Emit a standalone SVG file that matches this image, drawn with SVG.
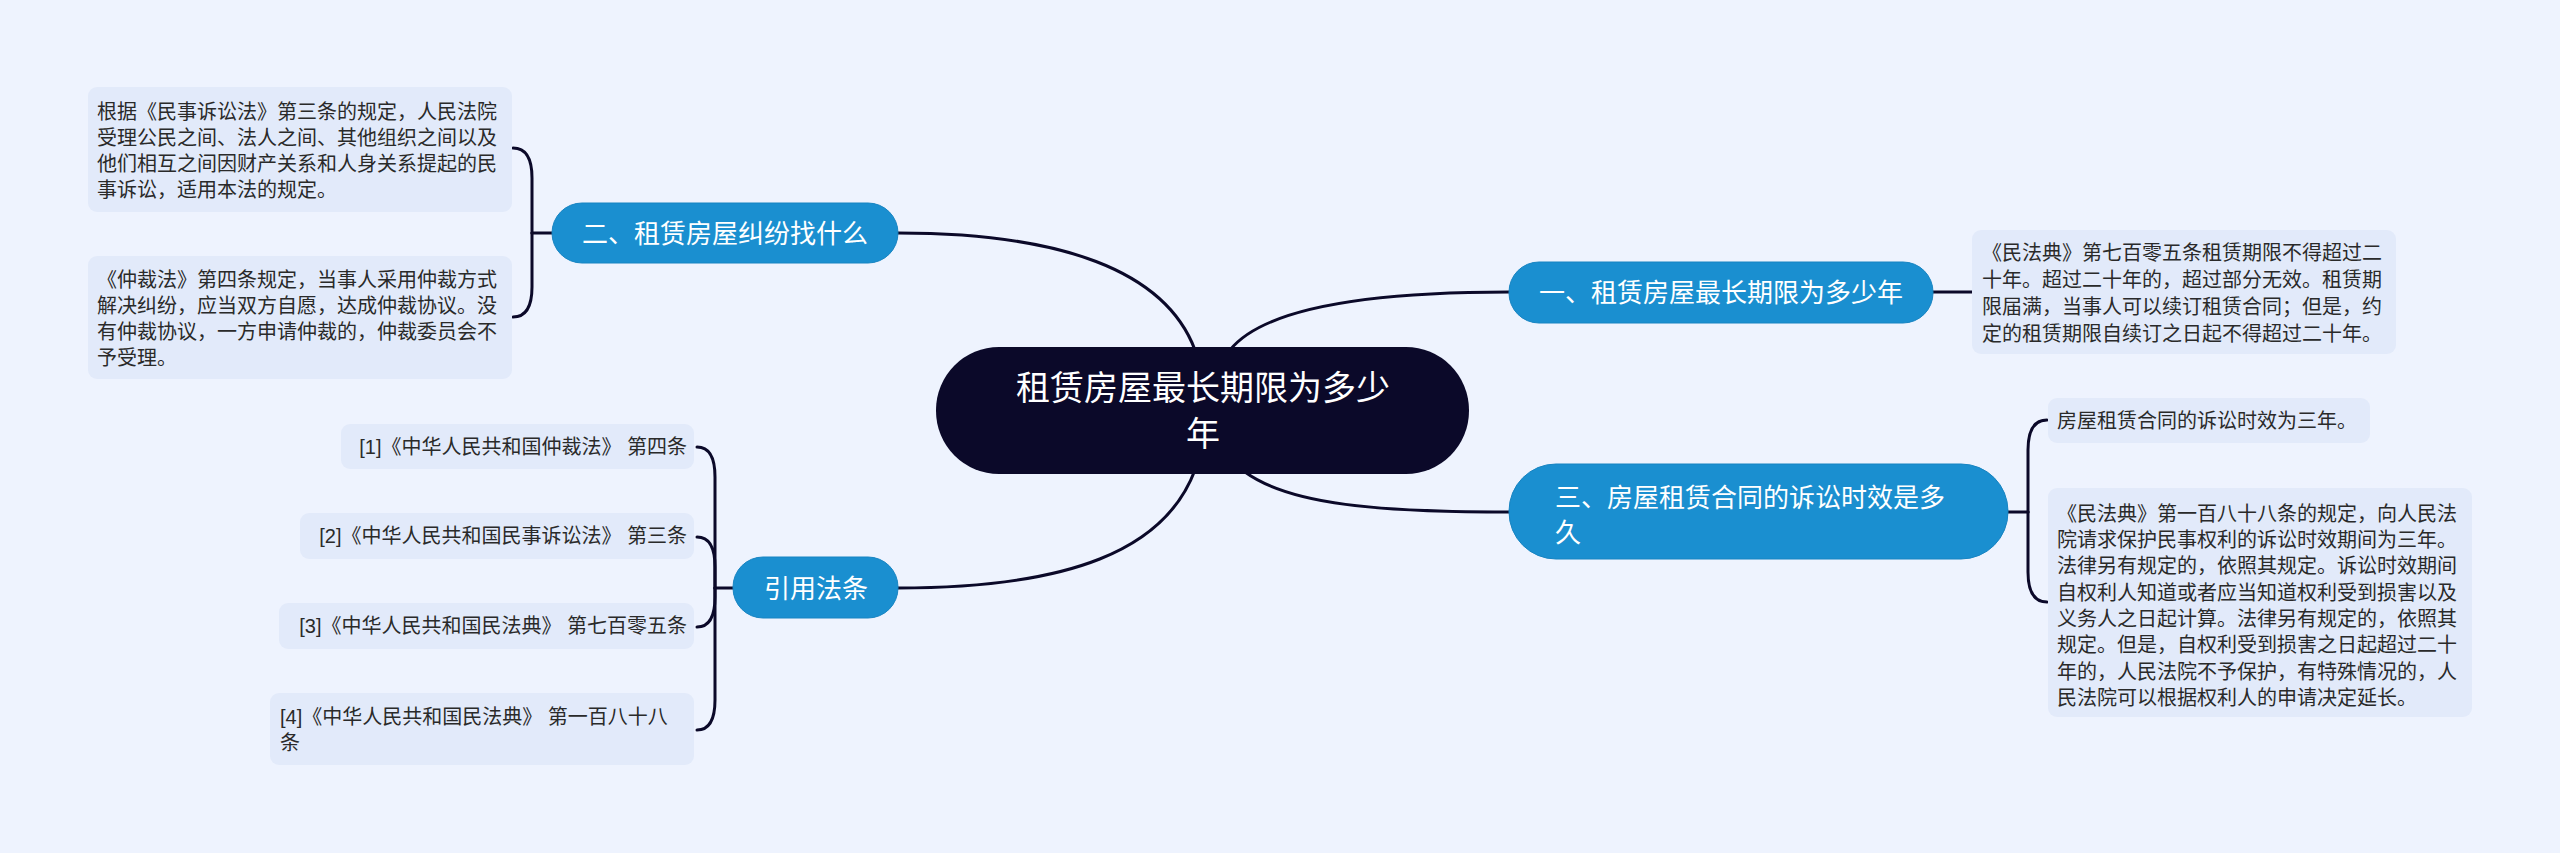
<svg xmlns="http://www.w3.org/2000/svg" width="2560" height="853" viewBox="0 0 2560 853">
<style>
.bg{fill:#eef3fe}
.box{fill:#e2eafa}
.branch{fill:#1a8fd0;stroke:#1784c2;stroke-width:1}
.root{fill:#0b0929}
.t{font-family:"Liberation Sans","Noto Sans CJK SC",sans-serif;font-size:20px;fill:#2a2a2a}
.bt{font-family:"Liberation Sans","Noto Sans CJK SC",sans-serif;font-size:26px;fill:#ffffff}
.rt{font-family:"Liberation Sans","Noto Sans CJK SC",sans-serif;font-size:34px;fill:#ffffff;text-anchor:middle}
.c{fill:none;stroke:#0b0929;stroke-width:3;stroke-linecap:round}
</style>
<rect class="bg" x="0" y="0" width="2560" height="853"/>
<g id="connectors">
<path class="c" d="M1195 350 C1165 270 1060 233 898 233"/>
<path class="c" d="M1230 350 C1262 310 1360 292 1509 292"/>
<path class="c" d="M1245 472 C1290 505 1380 512 1509 512"/>
<path class="c" d="M1195 470 C1165 550 1070 588 898 588"/>
<path class="c" d="M552 233 L532 233"/>
<path class="c" d="M532 233 L532 178 Q532 148 513 148"/>
<path class="c" d="M532 233 L532 287 Q532 317 513 317"/>
<path class="c" d="M1933 292 L1972 292"/>
<path class="c" d="M2008 512 L2028 512"/>
<path class="c" d="M2028 512 L2028 450 Q2028 420 2047 420"/>
<path class="c" d="M2028 512 L2028 572 Q2028 602 2047 602"/>
<path class="c" d="M733 588 L715 588"/>
<path class="c" d="M715 588 L715 477 Q715 447 697 447"/>
<path class="c" d="M715 588 L715 567 Q715 537 697 537"/>
<path class="c" d="M715 588 L715 597 Q715 627 697 627"/>
<path class="c" d="M715 588 L715 700 Q715 730 697 730"/>
</g>
<g id="root">
<rect class="root" x="936" y="347" width="533" height="127" rx="63"/>
<text class="rt" x="1203" y="400">租赁房屋最长期限为多少</text>
<text class="rt" x="1203" y="446">年</text>
</g>
<g id="branch1">
<rect class="branch" x="1509" y="262" width="424" height="61" rx="30"/>
<text class="bt" x="1721" y="302" text-anchor="middle">一、租赁房屋最长期限为多少年</text>
</g>
<g id="leaf1">
<rect class="box" x="1972" y="230" width="424" height="124" rx="9"/>
<text class="t" x="1982" y="260">《民法典》第七百零五条租赁期限不得超过二</text>
<text class="t" x="1982" y="287">十年。超过二十年的，超过部分无效。租赁期</text>
<text class="t" x="1982" y="314">限届满，当事人可以续订租赁合同；但是，约</text>
<text class="t" x="1982" y="341">定的租赁期限自续订之日起不得超过二十年。</text>
</g>
<g id="branch2">
<rect class="branch" x="552" y="203" width="346" height="60" rx="30"/>
<text class="bt" x="725" y="243" text-anchor="middle">二、租赁房屋纠纷找什么</text>
</g>
<g id="leaf2a">
<rect class="box" x="88" y="87" width="424" height="125" rx="9"/>
<text class="t" x="97" y="119">根据《民事诉讼法》第三条的规定，人民法院</text>
<text class="t" x="97" y="145">受理公民之间、法人之间、其他组织之间以及</text>
<text class="t" x="97" y="171">他们相互之间因财产关系和人身关系提起的民</text>
<text class="t" x="97" y="197">事诉讼，适用本法的规定。</text>
</g>
<g id="leaf2b">
<rect class="box" x="88" y="256" width="424" height="123" rx="9"/>
<text class="t" x="97" y="287">《仲裁法》第四条规定，当事人采用仲裁方式</text>
<text class="t" x="97" y="313">解决纠纷，应当双方自愿，达成仲裁协议。没</text>
<text class="t" x="97" y="339">有仲裁协议，一方申请仲裁的，仲裁委员会不</text>
<text class="t" x="97" y="365">予受理。</text>
</g>
<g id="branch3">
<rect class="branch" x="1509" y="464" width="499" height="95" rx="47"/>
<text class="bt" x="1555" y="507">三、房屋租赁合同的诉讼时效是多</text>
<text class="bt" x="1555" y="542">久</text>
</g>
<g id="leaf3a">
<rect class="box" x="2048" y="398" width="322" height="45" rx="9"/>
<text class="t" x="2057" y="428">房屋租赁合同的诉讼时效为三年。</text>
</g>
<g id="leaf3b">
<rect class="box" x="2048" y="488" width="424" height="229" rx="9"/>
<text class="t" x="2057" y="521">《民法典》第一百八十八条的规定，向人民法</text>
<text class="t" x="2057" y="547">院请求保护民事权利的诉讼时效期间为三年。</text>
<text class="t" x="2057" y="573">法律另有规定的，依照其规定。诉讼时效期间</text>
<text class="t" x="2057" y="600">自权利人知道或者应当知道权利受到损害以及</text>
<text class="t" x="2057" y="626">义务人之日起计算。法律另有规定的，依照其</text>
<text class="t" x="2057" y="652">规定。但是，自权利受到损害之日起超过二十</text>
<text class="t" x="2057" y="679">年的，人民法院不予保护，有特殊情况的，人</text>
<text class="t" x="2057" y="705">民法院可以根据权利人的申请决定延长。</text>
</g>
<g id="branch4">
<rect class="branch" x="733" y="557" width="165" height="61" rx="30"/>
<text class="bt" x="816" y="598" text-anchor="middle">引用法条</text>
</g>
<g id="ref1">
<rect class="box" x="341" y="424" width="353" height="45" rx="9"/>
<text class="t" x="687" y="454" text-anchor="end">[1]《中华人民共和国仲裁法》 第四条</text>
</g>
<g id="ref2">
<rect class="box" x="300" y="513" width="394" height="46" rx="9"/>
<text class="t" x="687" y="543" text-anchor="end">[2]《中华人民共和国民事诉讼法》 第三条</text>
</g>
<g id="ref3">
<rect class="box" x="279" y="603" width="415" height="46" rx="9"/>
<text class="t" x="687" y="633" text-anchor="end">[3]《中华人民共和国民法典》 第七百零五条</text>
</g>
<g id="ref4">
<rect class="box" x="270" y="693" width="424" height="72" rx="9"/>
<text class="t" x="280" y="724">[4]《中华人民共和国民法典》 第一百八十八</text>
<text class="t" x="280" y="750">条</text>
</g>
</svg>
